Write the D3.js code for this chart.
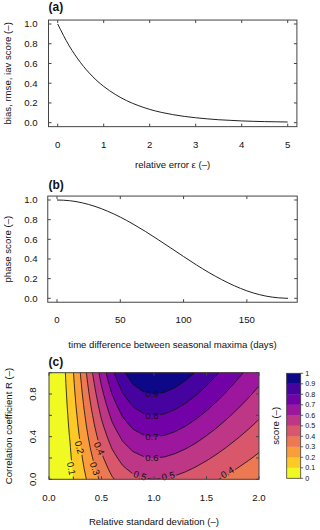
<!DOCTYPE html>
<html><head><meta charset="utf-8">
<script src="https://cdn.jsdelivr.net/npm/d3@7"></script>
<style>
body{margin:0;background:#fff}
text{font-family:"Liberation Sans",Arial,Helvetica,sans-serif;fill:#111}
</style>
</head><body>
<svg id="chart" width="320" height="530"></svg>
<script>
// ---------------- data ----------------
// (a) score vs relative error
const errX = [0,0.25,0.5,0.75,1,1.25,1.5,1.75,2,2.25,2.5,2.75,3,3.25,3.5,3.75,4,4.25,4.5,4.75,5];
const errScore = [1,0.779,0.607,0.472,0.368,0.287,0.223,0.174,0.135,0.105,0.082,0.064,0.050,0.039,0.030,0.024,0.018,0.014,0.011,0.009,0.007];
// (b) phase score vs time difference
const phaseDays = [0,10,20,30,40,50,60,70,80,90,100,110,120,130,140,150,160,170,180,182.5];
const phaseScore = [1,0.993,0.971,0.935,0.886,0.826,0.756,0.679,0.596,0.511,0.425,0.341,0.262,0.191,0.128,0.076,0.037,0.012,0.001,0];
// (c) score grid: rows = correlation R, columns = relative std dev
const sigmaValues = [0,0.1,0.2,0.3,0.4,0.5,0.6,0.7,0.8,0.9,1.0,1.1,1.2,1.3,1.4,1.5,1.6,1.7,1.8,1.9,2.0];
const rValues = [0,0.1,0.2,0.3,0.4,0.5,0.6,0.7,0.8,0.9,1.0];
const scoreRow00 = [0,.020,.074,.152,.238,.320,.389,.441,.476,.494,.500,.495,.484,.467,.447,.426,.404,.382,.360,.340,.320];
const scoreRow01 = [0,.022,.081,.167,.262,.352,.428,.486,.524,.544,.550,.545,.532,.514,.492,.469,.444,.420,.397,.374,.352];
const scoreRow02 = [0,.024,.089,.182,.285,.384,.467,.530,.571,.593,.600,.595,.580,.561,.537,.511,.485,.458,.433,.408,.384];
const scoreRow03 = [0,.025,.096,.197,.309,.416,.506,.574,.619,.643,.650,.644,.629,.607,.582,.554,.525,.497,.469,.442,.416];
const scoreRow04 = [0,.027,.104,.212,.333,.448,.545,.618,.666,.692,.700,.694,.677,.654,.626,.596,.566,.535,.505,.476,.448];
const scoreRow05 = [0,.029,.111,.227,.357,.480,.584,.662,.714,.742,.750,.743,.726,.701,.671,.639,.606,.573,.541,.510,.480];
const scoreRow06 = [0,.031,.118,.242,.380,.512,.623,.706,.761,.791,.800,.793,.774,.747,.716,.682,.646,.611,.577,.544,.512];
const scoreRow07 = [0,.033,.126,.258,.404,.544,.662,.750,.809,.841,.850,.842,.822,.794,.761,.724,.687,.649,.613,.578,.544];
const scoreRow08 = [0,.035,.133,.273,.428,.576,.701,.795,.857,.890,.900,.892,.871,.841,.805,.767,.727,.688,.649,.612,.576];
const scoreRow09 = [0,.037,.141,.288,.452,.608,.740,.839,.904,.940,.950,.941,.919,.888,.850,.809,.768,.726,.685,.645,.608];
const scoreRow10 = [0,.039,.148,.303,.476,.640,.779,.883,.952,.989,1.000,.991,.967,.934,.895,.852,.808,.764,.721,.679,.640];
const levels = [0,0.1,0.2,0.3,0.4,0.5,0.6,0.7,0.8,0.9,1.0];
const levelColors = ["#F0F921","#FDC926","#FA9E3B","#ED7953","#D8576B","#BD3786","#9C179E","#7301A8","#47039F","#0D0887"];
const levelLabels = ["0","0.1","0.2","0.3","0.4","0.5","0.6","0.7","0.8","0.9","1"];
// ticks
const xTicksA = [0,1,2,3,4,5];
const yTicksAB = [0,0.2,0.4,0.6,0.8,1.0];
const xTicksB = [0,50,100,150];
const xTicksC = [0,0.5,1.0,1.5,2.0];
const yTicksC = [0,0.2,0.4,0.6,0.8,1.0];
const yTickLabelsC = [0,0.4,0.8];
// contour label anchors (value, sigma, R)
const contourLabelValues = [0.9,0.8,0.7,0.6,0.5,0.5,0.4,0.4,0.3,0.2,0.1];
const contourLabelSigma  = [0.98,0.98,0.98,0.98,0.867,1.136,1.698,0.479,0.438,0.290,0.212];
const contourLabelR      = [0.80,0.60,0.40,0.20,0.035,0.03,0.065,0.29,0.10,0.30,0.10];
const contourLabelAngle  = [0,0,0,0,17,-13,-31,66,70,74,78];

// ---------------- drawing ----------------
const svg = d3.select("#chart");
const defs = svg.append("defs");
const AX = "#444";
const FS = 9.6;

function linePanel(o){
  const g = svg.append("g");
  const [dx0,dx1] = o.xs.domain(), [dy0,dy1] = o.ys.domain();
  const px = (dx1-dx0)*0.04, py=(dy1-dy0)*0.04;
  const bx0 = o.xs(dx0-px), bx1 = o.xs(dx1+px), by0 = o.ys(dy1+py), by1 = o.ys(dy0-py);
  g.append("rect").attr("x",bx0).attr("y",by0).attr("width",bx1-bx0).attr("height",by1-by0)
    .attr("fill","none").attr("stroke",AX).attr("stroke-width",1);
  const tl = 3;
  o.xticks.forEach(t=>{
    const x=o.xs(t);
    g.append("line").attr("x1",x).attr("x2",x).attr("y1",by1).attr("y2",by1-tl).attr("stroke",AX);
    g.append("line").attr("x1",x).attr("x2",x).attr("y1",by0).attr("y2",by0+tl).attr("stroke",AX);
    g.append("text").attr("x",x).attr("y",by1+21).attr("text-anchor","middle").attr("font-size",FS).text(o.xfmt(t));
  });
  o.yticks.forEach(t=>{
    const y=o.ys(t);
    g.append("line").attr("x1",bx0).attr("x2",bx0+tl).attr("y1",y).attr("y2",y).attr("stroke",AX);
    g.append("line").attr("x1",bx1).attr("x2",bx1-tl).attr("y1",y).attr("y2",y).attr("stroke",AX);
    g.append("text").attr("x",37.5).attr("y",y).attr("dy","0.35em").attr("text-anchor","end").attr("font-size",FS).text(d3.format(".1f")(t));
  });
  const line = d3.line().x((d,i)=>o.xs(o.xv[i])).y((d,i)=>o.ys(o.yv[i])).curve(d3.curveMonotoneX);
  g.append("path").attr("d",line(o.yv)).attr("fill","none").attr("stroke","#222").attr("stroke-width",1);
  g.append("text").attr("x",48.5).attr("y",o.labY).attr("font-size",12).attr("font-weight","bold").text(o.label);
  g.append("text").attr("x",(bx0+bx1)/2).attr("y",o.xtY).attr("text-anchor","middle").attr("font-size",FS).text(o.xtitle);
  g.append("text").attr("transform",`translate(11,${(o.ys(dy0)+o.ys(dy1))/2}) rotate(-90)`).attr("text-anchor","middle").attr("font-size",FS).text(o.ytitle);
}

linePanel({
  xs:d3.scaleLinear([0,5],[57.7,287.7]), ys:d3.scaleLinear([0,1],[122.7,24]),
  xv:errX, yv:errScore, xticks:xTicksA, yticks:yTicksAB, xfmt:d=>String(d),
  label:"(a)", labY:11, xtY:167.5, xtitle:"relative error ε (–)", ytitle:"bias, rmse, iav score (–)"
});
linePanel({
  xs:d3.scaleLinear([0,182.5],[57,288]), ys:d3.scaleLinear([0,1],[298.3,200]),
  xv:phaseDays, yv:phaseScore, xticks:xTicksB, yticks:yTicksAB, xfmt:d=>String(d),
  label:"(b)", labY:189, xtY:348, xtitle:"time difference between seasonal maxima (days)", ytitle:"phase score (–)"
});

// ---- panel (c) ----
const xsC = d3.scaleLinear([0,2],[49,259]);
const ysC = d3.scaleLinear([0,1],[479.3,372.7]);
const gC = svg.append("g");
defs.append("clipPath").attr("id","clipC").append("rect")
  .attr("x",xsC(0)).attr("y",ysC(1)).attr("width",xsC(2)-xsC(0)).attr("height",ysC(0)-ysC(1));
const scoreGrid = [scoreRow00,scoreRow01,scoreRow02,scoreRow03,scoreRow04,scoreRow05,scoreRow06,scoreRow07,scoreRow08,scoreRow09,scoreRow10];
const nx = sigmaValues.length, ny = rValues.length;
const values = scoreGrid.flat();
const dSig = sigmaValues[1]-sigmaValues[0], dR = rValues[1]-rValues[0];
const proj = d3.geoTransform({point(x,y){
  this.stream.point(xsC(sigmaValues[0]+(x-0.5)*dSig), ysC(rValues[0]+(y-0.5)*dR));
}});
const cpath = d3.geoPath(proj);
const contours = d3.contours().size([nx,ny]).thresholds(levels.slice(0,10))(values);
const plotC = gC.append("g").attr("clip-path","url(#clipC)");
plotC.selectAll("path.band").data(contours).join("path").attr("class","band")
  .attr("d",cpath).attr("fill",(d,i)=>levelColors[i]).attr("stroke",(d,i)=>levelColors[i]).attr("stroke-width",0.3);

// labels first (to measure), then mask
const lblG = gC.append("g");
const labelNodes = contourLabelValues.map((v,i)=>{
  const x = xsC(contourLabelSigma[i]), y = ysC(contourLabelR[i]);
  const t = lblG.append("text").attr("transform",`translate(${x},${y}) rotate(${contourLabelAngle[i]})`)
    .attr("text-anchor","middle").attr("dy","0.35em").attr("font-size",9.5).text(d3.format(".1f")(v));
  return {x,y,a:contourLabelAngle[i],w:t.node().getComputedTextLength()};
});
const mask = defs.append("mask").attr("id","lblMask").attr("maskUnits","userSpaceOnUse")
  .attr("x",0).attr("y",0).attr("width",320).attr("height",530);
mask.append("rect").attr("width",320).attr("height",530).attr("fill","white");
labelNodes.forEach(l=>{
  mask.append("rect").attr("x",-l.w/2-1.5).attr("y",-4.5).attr("width",l.w+3).attr("height",9)
    .attr("transform",`translate(${l.x},${l.y}) rotate(${l.a})`).attr("fill","black");
});
plotC.append("g").attr("mask","url(#lblMask)").selectAll("path.cl").data(contours.slice(1)).join("path")
  .attr("class","cl").attr("d",cpath).attr("fill","none").attr("stroke","#111").attr("stroke-width",0.8);
lblG.raise();

// box + ticks
gC.append("rect").attr("x",xsC(0)).attr("y",ysC(1)).attr("width",xsC(2)-xsC(0)).attr("height",ysC(0)-ysC(1))
  .attr("fill","none").attr("stroke",AX);
xTicksC.forEach(t=>{
  const x=xsC(t);
  gC.append("line").attr("x1",x).attr("x2",x).attr("y1",ysC(0)).attr("y2",ysC(0)-3).attr("stroke",AX);
  gC.append("line").attr("x1",x).attr("x2",x).attr("y1",ysC(1)).attr("y2",ysC(1)+3).attr("stroke",AX);
  gC.append("text").attr("x",x).attr("y",500.5).attr("text-anchor","middle").attr("font-size",FS).text(d3.format(".1f")(t));
});
yTicksC.forEach(t=>{
  const y=ysC(t);
  gC.append("line").attr("x1",xsC(0)).attr("x2",xsC(0)+3).attr("y1",y).attr("y2",y).attr("stroke",AX);
  gC.append("line").attr("x1",xsC(2)).attr("x2",xsC(2)-3).attr("y1",y).attr("y2",y).attr("stroke",AX);
});
yTickLabelsC.forEach(t=>{
  gC.append("text").attr("transform",`translate(35.5,${ysC(t)}) rotate(-90)`).attr("text-anchor","middle")
    .attr("font-size",FS).text(d3.format(".1f")(t));
});
gC.append("text").attr("x",48.5).attr("y",366).attr("font-size",12).attr("font-weight","bold").text("(c)");
gC.append("text").attr("x",154).attr("y",525).attr("text-anchor","middle").attr("font-size",FS).text("Relative standard deviation (–)");
gC.append("text").attr("transform",`translate(12,${(ysC(0)+ysC(1))/2}) rotate(-90)`).attr("text-anchor","middle")
  .attr("font-size",FS).text("Correlation coefficient R (–)");

// colorbar
const ycb = d3.scaleLinear([0,1],[478.3,373.3]);
const cbx = 286.7, cbw = 14;
const gCB = svg.append("g");
levelColors.forEach((c,i)=>{
  gCB.append("rect").attr("x",cbx).attr("y",ycb(levels[i+1])).attr("width",cbw)
    .attr("height",ycb(levels[i])-ycb(levels[i+1])).attr("fill",c).attr("stroke",c).attr("stroke-width",0.3);
});
gCB.append("rect").attr("x",cbx).attr("y",ycb(1)).attr("width",cbw).attr("height",ycb(0)-ycb(1))
  .attr("fill","none").attr("stroke",AX).attr("stroke-width",0.8);
levels.forEach((v,i)=>{
  const y=ycb(v);
  gCB.append("line").attr("x1",cbx+cbw).attr("x2",cbx+cbw+2.5).attr("y1",y).attr("y2",y).attr("stroke",AX).attr("stroke-width",0.8);
  gCB.append("text").attr("x",cbx+cbw+4.5).attr("y",y).attr("dy","0.35em").attr("font-size",7.2).text(levelLabels[i]);
});
gCB.append("text").attr("transform",`translate(278.5,${(ycb(0)+ycb(1))/2}) rotate(-90)`).attr("text-anchor","middle")
  .attr("font-size",FS).text("score (–)");
</script>
</body></html>
